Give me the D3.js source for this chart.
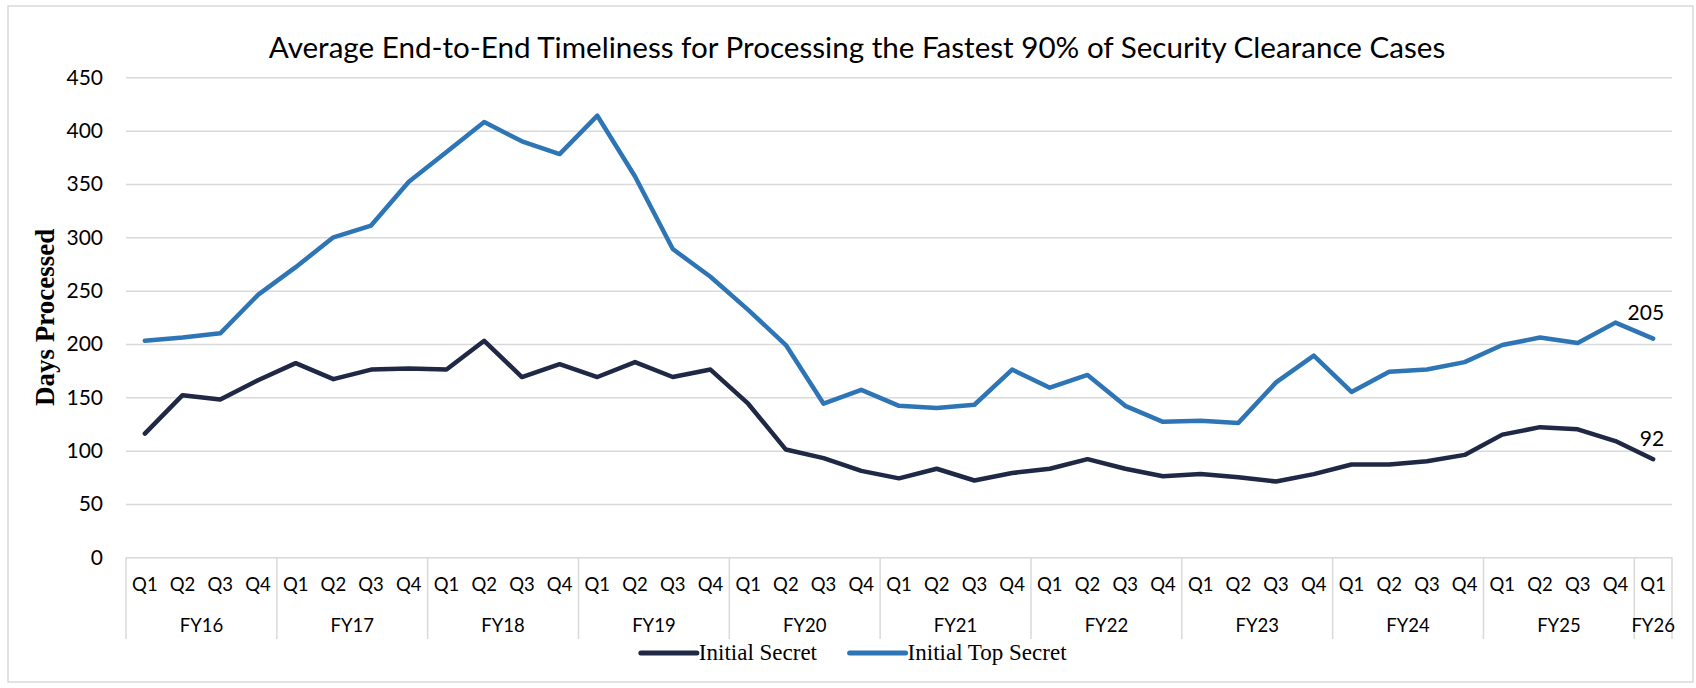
<!DOCTYPE html>
<html>
<head>
<meta charset="utf-8">
<script src="https://cdn.jsdelivr.net/npm/d3@7"></script>
<style>
  html, body { margin: 0; padding: 0; background: #ffffff; }
  svg { display: block; }
</style>
</head>
<body>
<svg id="chart" width="1696" height="688"></svg>
<script>
// ---- Data ----
const chartTitle = "Average End-to-End Timeliness for Processing the Fastest 90% of Security Clearance Cases";
const yAxisTitle = "Days Processed";

const fiscalYears = ["FY16", "FY17", "FY18", "FY19", "FY20", "FY21", "FY22", "FY23", "FY24", "FY25", "FY26"];
const quarterLabels = [
  "Q1", "Q2", "Q3", "Q4",  "Q1", "Q2", "Q3", "Q4",  "Q1", "Q2", "Q3", "Q4",
  "Q1", "Q2", "Q3", "Q4",  "Q1", "Q2", "Q3", "Q4",  "Q1", "Q2", "Q3", "Q4",
  "Q1", "Q2", "Q3", "Q4",  "Q1", "Q2", "Q3", "Q4",  "Q1", "Q2", "Q3", "Q4",
  "Q1", "Q2", "Q3", "Q4",  "Q1"
];

const initialSecret = [
  116, 152, 148, 166,  182, 167, 176, 177,  176, 203, 169, 181,
  169, 183, 169, 176,  144, 101,  93,  81,   74,  83,  72,  79,
   83,  92,  83,  76,   78,  75,  71,  78,   87,  87,  90,  96,
  115, 122, 120, 109,   92
];
const initialTopSecret = [
  203, 206, 210, 246,  272, 300, 311, 352,  380, 408, 390, 378,
  414, 357, 289, 263,  232, 199, 144, 157,  142, 140, 143, 176,
  159, 171, 142, 127,  128, 126, 164, 189,  155, 174, 176, 183,
  199, 206, 201, 220,  205
];

const yTicks = [0, 50, 100, 150, 200, 250, 300, 350, 400, 450];

const series = [
  { name: "Initial Secret",     values: initialSecret,    color: "#1f2844", labelDy: -13 },
  { name: "Initial Top Secret", values: initialTopSecret, color: "#2e75b6", labelDy: -19 }
];

// ---- Layout ----
const W = 1696, H = 688;
const plot = { left: 126, right: 1672, top: 77.3, bottom: 557.3 };
const sansFont = "Lato, 'Open Sans', sans-serif";
const serifFont = "'Liberation Serif', 'DejaVu Serif', serif";
const gridColor = "#d9d9d9";

const svg = d3.select("#chart");

// Outer chart border
svg.append("rect")
  .attr("x", 8).attr("y", 6)
  .attr("width", 1685).attr("height", 676)
  .attr("fill", "#ffffff")
  .attr("stroke", gridColor).attr("stroke-width", 1.5);

// Scales
const x = d3.scaleBand()
  .domain(d3.range(quarterLabels.length))
  .range([plot.left, plot.right])
  .padding(0);
const y = d3.scaleLinear()
  .domain([0, 450])
  .range([plot.bottom, plot.top]);
const cx = i => x(i) + x.bandwidth() / 2;

// Title
svg.append("text")
  .attr("x", 857).attr("y", 58)
  .attr("text-anchor", "middle")
  .attr("font-family", sansFont)
  .attr("font-size", 29.6)
  .attr("fill", "#000")
  .text(chartTitle);

// Horizontal gridlines + y tick labels via axis
const yAxis = d3.axisLeft(y).tickValues(yTicks)
  .tickSize(-(plot.right - plot.left))
  .tickPadding(23);
const gY = svg.append("g")
  .attr("transform", `translate(${plot.left},0)`)
  .call(yAxis);
gY.select(".domain").remove();
gY.selectAll(".tick line").attr("stroke", gridColor).attr("stroke-width", 1.5);
gY.selectAll(".tick text")
  .attr("font-family", sansFont)
  .attr("font-size", 21)
  .attr("fill", "#000");

// Y-axis title
svg.append("text")
  .attr("transform", `translate(54,${(plot.top + plot.bottom) / 2}) rotate(-90)`)
  .attr("text-anchor", "middle")
  .attr("font-family", serifFont)
  .attr("font-weight", "bold")
  .attr("font-size", 27)
  .attr("fill", "#000")
  .text(yAxisTitle);

// Category axis: quarter labels
const gX = svg.append("g");
gX.selectAll("text.q")
  .data(quarterLabels)
  .join("text")
  .attr("class", "q")
  .attr("x", (d, i) => cx(i))
  .attr("y", 585)
  .attr("dy", "0.35em")
  .attr("text-anchor", "middle")
  .attr("font-family", sansFont)
  .attr("font-size", 18.5)
  .attr("fill", "#000")
  .text(d => d);

// Fiscal year groups
const groups = fiscalYears.map((fy, k) => {
  const start = k * 4;
  const end = Math.min(start + 4, quarterLabels.length) - 1;
  return { fy, x0: x(start), x1: x(end) + x.bandwidth() };
});
const dividerBottom = 639;
gX.selectAll("line.div")
  .data([...groups.map(g => g.x0), plot.right])
  .join("line")
  .attr("class", "div")
  .attr("x1", d => d).attr("x2", d => d)
  .attr("y1", plot.bottom).attr("y2", dividerBottom)
  .attr("stroke", gridColor).attr("stroke-width", 1.5);
gX.selectAll("text.fy")
  .data(groups)
  .join("text")
  .attr("class", "fy")
  .attr("x", d => (d.x0 + d.x1) / 2)
  .attr("y", 626)
  .attr("dy", "0.35em")
  .attr("text-anchor", "middle")
  .attr("font-family", sansFont)
  .attr("font-size", 18.5)
  .attr("fill", "#000")
  .text(d => d.fy);

// Lines
const line = d3.line()
  .x((d, i) => cx(i))
  .y(d => y(d))
  .curve(d3.curveLinear);

svg.append("g").selectAll("path")
  .data(series)
  .join("path")
  .attr("d", s => line(s.values))
  .attr("fill", "none")
  .attr("stroke", s => s.color)
  .attr("stroke-width", 4.5)
  .attr("stroke-linejoin", "round")
  .attr("stroke-linecap", "round");

// End-point value labels
svg.append("g").selectAll("text")
  .data(series)
  .join("text")
  .attr("x", s => cx(s.values.length - 1) + 11)
  .attr("y", s => y(s.values[s.values.length - 1]) + s.labelDy)
  .attr("text-anchor", "end")
  .attr("font-family", sansFont)
  .attr("font-size", 21)
  .attr("fill", "#000")
  .text(s => s.values[s.values.length - 1]);

// Legend
const legend = svg.append("g");
const legendY = 653, swatchW = 56, swatchGap = 2, itemGap = 32;
const items = legend.selectAll("g")
  .data(series)
  .join("g");
items.append("line")
  .attr("x1", 0).attr("x2", swatchW)
  .attr("y1", 0).attr("y2", 0)
  .attr("stroke", s => s.color)
  .attr("stroke-width", 5)
  .attr("stroke-linecap", "round");
items.append("text")
  .attr("x", swatchW + swatchGap)
  .attr("y", 0)
  .attr("dy", "0.32em")
  .attr("font-family", serifFont)
  .attr("font-size", 23)
  .attr("fill", "#000")
  .text(s => s.name);
const widths = [];
items.each(function () {
  widths.push(this.getBBox().width);
});
const total = d3.sum(widths) + itemGap * (widths.length - 1);
let cursor = 854 - total / 2;
items.attr("transform", (s, i) => {
  const t = `translate(${cursor},${legendY})`;
  cursor += widths[i] + itemGap;
  return t;
});
</script>
</body>
</html>
